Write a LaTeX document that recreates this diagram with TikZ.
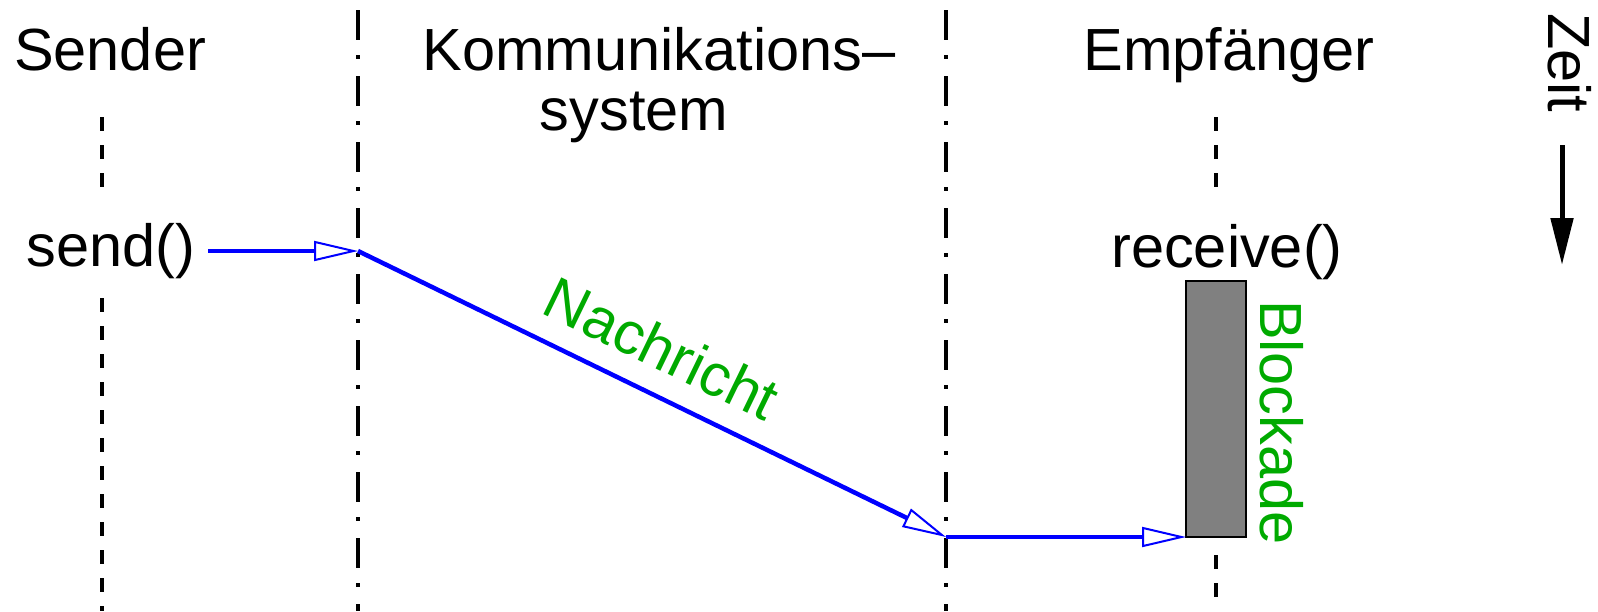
\documentclass[tikz,border=0pt]{standalone}
\usepackage{fontspec}
\setmainfont{Liberation Sans}
\usetikzlibrary{arrows.meta}
\definecolor{msgblue}{RGB}{0,0,255}
\definecolor{lblgreen}{RGB}{0,170,0}
\definecolor{blockgray}{RGB}{128,128,128}
\begin{document}
\begin{tikzpicture}[x=0.5pt,y=-0.5pt,
  every node/.style={inner sep=0pt, outer sep=0pt, font=\fontsize{29.75pt}{29.5pt}\selectfont},
  lifeline/.style={line width=2.15pt, dash pattern=on 7pt off 7pt},
  sysline/.style={line width=2.15pt, dash pattern=on 15pt off 7.5pt on 2pt off 8.5pt},
  msg/.style={draw=msgblue, line width=2.25pt, -{Triangle[open, length=22pt, width=10pt, line width=1pt]}},
  greenlbl/.style={text=lblgreen},
  blockbox/.style={draw=black, fill=blockgray, line width=1pt, minimum width=30pt, minimum height=128pt},
  timearrow/.style={line width=2.5pt, -{Triangle[length=23.5pt, width=11pt]}}
]
\useasboundingbox (0,0) rectangle (1598,611);

% headings
\node[anchor=base] (hsender) at (110,70) {Sender};
\node[anchor=base] (hkomm) at (659,70) {Kommunikations–};
\node[anchor=base] (hsys) at (634,130) {system};
\node[anchor=base] (hemp) at (1229,70) {Empfänger};
\node[rotate=-90, anchor=base west] (zeit) at (1548,13) {Zeit};

% lifeline coordinates
\coordinate (sa) at (102,117);
\coordinate (sb) at (102,190);
\coordinate (sc) at (102,298);
\coordinate (sd) at (102,611);
\coordinate (ea) at (1216,117);
\coordinate (eb) at (1216,190);
\coordinate (ec) at (1216,555);
\coordinate (ed) at (1216,611);
\coordinate (ka) at (358,10);
\coordinate (kb) at (358,611);
\coordinate (kc) at (946,10);
\coordinate (kd) at (946,611);

\draw[lifeline] (sa) -- (sb);
\draw[lifeline] (sc) -- (sd);
\draw[lifeline] (ea) -- (eb);
\draw[lifeline] (ec) -- (ed);
\draw[sysline] (ka) -- (kb);
\draw[sysline] (kc) -- (kd);

% calls
\node[anchor=base] (send) at (111,266) {send()};
\node[anchor=base] (recv) at (1227,267) {receive()};
\node[blockbox] (block) at (1216,409) {};
\node[greenlbl, rotate=-90, anchor=base west] (blk) at (1260,300) {Blockade};

% message path
\coordinate (m0) at (208,251);
\coordinate (m1) at (358,251);
\coordinate (m2) at (946,537);
\draw[msg] (m0) -- (m1);
\draw[msg] (m1) -- (m2);
\draw[msg] (m2) -- (block.south west);
\node[greenlbl, rotate=-25.9] (nachricht) at (662,348) {Nachricht};

% time arrow
\coordinate (ta) at (1562,145);
\coordinate (tb) at (1562,265);
\draw[timearrow] (ta) -- (tb);
\end{tikzpicture}
\end{document}
